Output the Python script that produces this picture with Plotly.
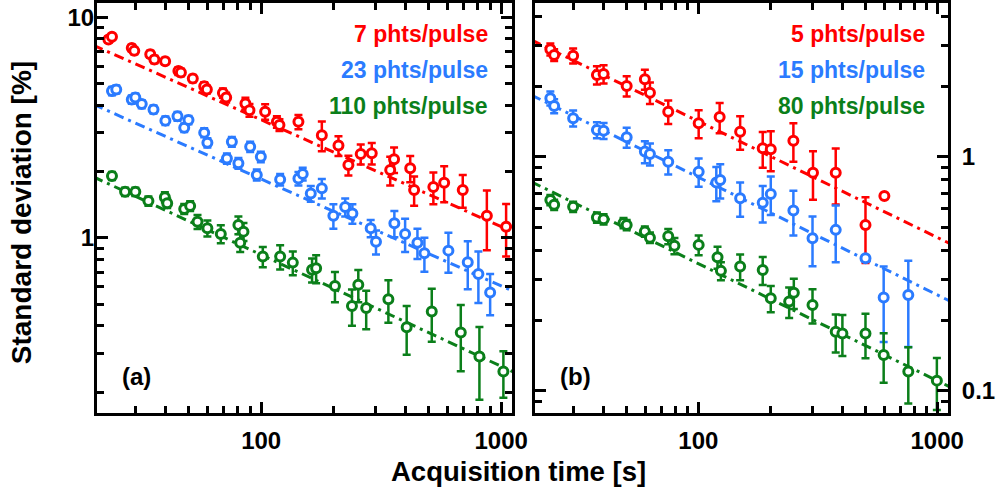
import numpy as np
import plotly.graph_objects as go

# ---------------- panel (a) ----------------
a_red_t = [23.1, 23.9, 28.9, 29.6, 34.5, 35.9, 39.8, 45.2, 46.3, 51.9, 57.9, 59.4, 69.3, 71.5,
           86.0, 89.4, 103.9, 116.3, 119.2, 143, 179, 210, 231, 260, 289, 345, 358, 418, 434,
           522, 579, 692, 872, 1049]
a_red_v = [7.93, 8.15, 7.26, 7.04, 6.80, 6.44, 6.32, 5.70, 5.62, 5.28, 4.87, 4.71, 4.54, 4.33,
           4.07, 3.79, 3.73, 3.36, 3.25, 3.36, 2.92, 2.62, 2.14, 2.40, 2.42, 2.03, 2.27, 2.07, 1.65,
           1.70, 1.78, 1.65, 1.26, 1.125]
a_red_e = [0.25, 0.25, 0.25, 0.25, 0.25, 0.25, 0.22, 0.22, 0.22, 0.2, 0.2, 0.2, 0.22, 0.22,
           0.25, 0.25, 0.3, 0.2, 0.2, 0.25, 0.45, 0.27, 0.22, 0.25, 0.27, 0.3, 0.3, 0.28, 0.25,
           0.28, 0.33, 0.28, 0.38, 0.3]

a_blue_t = [23.9, 24.9, 28.9, 29.9, 31.8, 35.6, 39.9, 44.8, 47.8, 49.8, 57.9, 59.7, 72.0, 75.5,
            80.4, 90.0, 95.9, 99.7, 120, 143, 149, 161, 179, 200, 224, 240, 286, 301, 359, 398,
            448, 479, 603, 726, 804, 900]
a_blue_v = [4.63, 4.71, 4.24, 4.33, 4.04, 3.82, 3.40, 3.56, 3.16, 3.42, 3.00, 2.70, 2.29, 2.73,
            2.18, 2.59, 1.93, 2.33, 1.84, 1.86, 1.95, 1.59, 1.68, 1.26, 1.38, 1.29, 1.106, 0.962,
            1.166, 1.043, 0.952, 0.853, 0.876, 0.776, 0.687, 0.566]
a_blue_e = [0.2, 0.2, 0.18, 0.18, 0.17, 0.16, 0.15, 0.16, 0.14, 0.15, 0.14, 0.13, 0.12, 0.14,
            0.12, 0.14, 0.11, 0.13, 0.11, 0.13, 0.13, 0.13, 0.17, 0.16, 0.13, 0.13, 0.10, 0.12,
            0.16, 0.18, 0.15, 0.15, 0.18, 0.19, 0.18, 0.12]

a_green_t = [23.9, 27.1, 29.9, 33.9, 39.7, 40.6, 47.8, 50.6, 54.3, 59.7, 67.9, 80.4, 84.4, 81.8,
             101.6, 120, 135.5, 163, 169.5, 203, 239, 254, 274, 339, 404, 514, 679, 812, 1022]
a_green_v = [1.908, 1.62, 1.62, 1.47, 1.53, 1.436, 1.353, 1.396, 1.185, 1.106, 1.043, 1.145,
             1.068, 0.952, 0.823, 0.823, 0.773, 0.717, 0.729, 0.606, 0.492, 0.613, 0.481, 0.528,
             0.394, 0.464, 0.373, 0.290, 0.248]
a_green_e = [0.08, 0.07, 0.07, 0.07, 0.08, 0.07, 0.07, 0.07, 0.086, 0.092, 0.098, 0.107, 0.1,
             0.089, 0.086, 0.103, 0.096, 0.089, 0.106, 0.095, 0.092, 0.102, 0.095, 0.115, 0.098,
             0.125, 0.124, 0.105, 0.059]

# ---------------- panel (b) ----------------
b_red_t = [24.0, 24.9, 29.9, 37.6, 40.1, 50.1, 59.7, 62.7, 74.8, 100.3, 122.8, 149.6, 186, 201,
           250, 302, 376, 501, 601]
b_red_v = [2.886, 2.729, 2.710, 2.241, 2.263, 2.011, 2.148, 1.883, 1.562, 1.393, 1.482, 1.283,
           1.089, 1.079, 1.174, 0.857, 0.857, 0.512, 0.681]
b_red_e = [0.17, 0.16, 0.20, 0.20, 0.20, 0.20, 0.21, 0.20, 0.18, 0.19, 0.22, 0.21, 0.19, 0.21,
           0.22, 0.20, 0.23, 0.16, 0.0]

b_blue_t = [24.0, 24.9, 29.9, 37.6, 40.1, 50.1, 59.7, 62.7, 74.8, 100.3, 118.9, 123.5, 149.6,
            186, 201, 250, 300.6, 376, 501, 597, 757]
b_blue_v = [1.782, 1.652, 1.464, 1.304, 1.295, 1.214, 1.054, 1.030, 0.955, 0.865, 0.777, 0.797,
            0.666, 0.638, 0.695, 0.590, 0.449, 0.488, 0.369, 0.251, 0.257]
b_blue_e = [0.123, 0.114, 0.115, 0.103, 0.102, 0.119, 0.114, 0.111, 0.113, 0.119, 0.13, 0.133,
            0.111, 0.113, 0.13, 0.128, 0.108, 0.133, 0.0, 0.089, 0.103]

b_green_t = [24.0, 24.9, 29.9, 37.6, 40.1, 48.6, 50.1, 59.7, 62.7, 74.8, 79.4, 100.3, 120.3,
             124.3, 149.6, 186, 201, 240, 251, 300.6, 376, 401, 501, 597, 757, 997]
b_green_v = [0.655, 0.625, 0.613, 0.551, 0.542, 0.522, 0.512, 0.480, 0.452, 0.458, 0.417, 0.421,
             0.373, 0.326, 0.340, 0.329, 0.249, 0.241, 0.263, 0.233, 0.179, 0.176, 0.176, 0.1425,
             0.121, 0.1107]
b_green_e = [0.033, 0.031, 0.031, 0.028, 0.027, 0.026, 0.026, 0.024, 0.023, 0.034, 0.033, 0.041,
             0.040, 0.029, 0.043, 0.045, 0.032, 0.036, 0.039, 0.039, 0.033, 0.035, 0.038, 0.034,
             0.0326, 0.0277]

# fitted power-law lines, given by their values at the two end times
fit_t = [20, 1200]
a_red_fit = [7.47, 1.03]
a_blue_fit = [4.03, 0.555]
a_green_fit = [1.892, 0.239]
b_red_fit = [3.16, 0.414]
b_blue_fit = [1.839, 0.235]
b_green_fit = [0.783, 0.101]

a_labels = ["7 phts/pulse", "23 phts/pulse", "110 phts/pulse"]
b_labels = ["5 phts/pulse", "15 phts/pulse", "80 phts/pulse"]

RED = "#FF0000"
BLUE = "#2B7BFF"
GREEN = "#0B7F1A"
FONT = "Liberation Sans"

W, H = 999, 496

fig = go.Figure()


def add_panel(xa, ya, series, fits):
    for vals, c in fits:
        fig.add_trace(go.Scatter(
            x=fit_t, y=vals, mode="lines", xaxis=xa, yaxis=ya, showlegend=False,
            line=dict(color=c, width=3, dash="10px,5px,3px,5px"), hoverinfo="skip"))
    for t, v, e, c in series:
        fig.add_trace(go.Scatter(
            x=t, y=v, mode="markers", xaxis=xa, yaxis=ya, showlegend=False,
            error_y=dict(type="data", array=e, color=c, thickness=2.5, width=4),
            marker=dict(symbol="circle", size=9, color="white", line=dict(color=c, width=3))))


add_panel("x", "y",
          [(a_red_t, a_red_v, a_red_e, RED), (a_blue_t, a_blue_v, a_blue_e, BLUE),
           (a_green_t, a_green_v, a_green_e, GREEN)],
          [(a_red_fit, RED), (a_blue_fit, BLUE), (a_green_fit, GREEN)])
add_panel("x2", "y2",
          [(b_red_t, b_red_v, b_red_e, RED), (b_blue_t, b_blue_v, b_blue_e, BLUE),
           (b_green_t, b_green_v, b_green_e, GREEN)],
          [(b_red_fit, RED), (b_blue_fit, BLUE), (b_green_fit, GREEN)])


def minor_vals(lo, hi):
    return [m * 10.0 ** e for e in range(lo, hi) for m in range(2, 10)]


tickfont = dict(family=FONT, size=24, color="black", weight="bold")
common = dict(type="log", showline=True, linecolor="black", linewidth=3, mirror="allticks",
              ticks="inside", ticklen=11, tickwidth=2.5, tickcolor="black", showgrid=False,
              zeroline=False, tickfont=tickfont, automargin=False)

xrange = [np.log10(20.7), np.log10(1110)]
xminor = dict(ticks="inside", ticklen=7, tickwidth=2.5, tickcolor="black", showgrid=False,
              tickmode="array", tickvals=minor_vals(1, 4))

fig.update_layout(
    template="none",
    width=W, height=H, margin=dict(l=0, r=0, t=0, b=0, pad=0), autosize=False,
    paper_bgcolor="white", plot_bgcolor="white",
    xaxis=dict(domain=[97 / W, 512 / W], anchor="y", range=xrange,
               tickmode="array", tickvals=[10, 100, 1000], ticktext=["10", "100", "1000"],
               minor=xminor, ticklabelstandoff=4, **common),
    yaxis=dict(domain=[1 - 413 / H, 1 - 3 / H], anchor="x",
               range=[np.log10(0.161), np.log10(11.6)],
               tickmode="array", tickvals=[1, 10], ticktext=["1", "10"],
               minor=dict(ticks="inside", ticklen=7, tickwidth=2.5, tickcolor="black",
                          showgrid=False, tickmode="array", tickvals=minor_vals(-1, 2)),
               ticklabelstandoff=-5, **common),
    xaxis2=dict(domain=[535 / W, 948 / W], anchor="y2", range=xrange,
                tickmode="array", tickvals=[10, 100, 1000], ticktext=["10", "100", "1000"],
                minor=xminor, ticklabelstandoff=4, **common),
    yaxis2=dict(domain=[1 - 413 / H, 1 - 3 / H], anchor="x2", side="right",
                range=[np.log10(0.0805), np.log10(4.55)],
                tickmode="array", tickvals=[0.1, 1], ticktext=["0.1", "1"],
                minor=dict(ticks="inside", ticklen=7, tickwidth=2.5, tickcolor="black",
                           showgrid=False, tickmode="array", tickvals=minor_vals(-2, 1)),
                ticklabelstandoff=6, **common),
)

ann = []
for labels, xr in ((a_labels, 490), (b_labels, 927)):
    for txt, c, yc in zip(labels, (RED, BLUE, GREEN), (34, 70, 106)):
        ann.append(dict(text=txt, x=xr / W, y=1 - yc / H, xref="paper", yref="paper",
                        xanchor="right", yanchor="middle", showarrow=False,
                        font=dict(family=FONT, size=23, color=c, weight="bold")))
for txt, xc in (("(a)", 136), ("(b)", 575)):
    ann.append(dict(text=txt, x=xc / W, y=1 - 376 / H, xref="paper", yref="paper",
                    xanchor="center", yanchor="middle", showarrow=False,
                    font=dict(family=FONT, size=24, color="black", weight="bold")))
ann.append(dict(text="Acquisition time [s]", x=518 / W, y=1 - 471 / H, xref="paper",
                yref="paper", xanchor="center", yanchor="middle", showarrow=False,
                font=dict(family=FONT, size=27.5, color="black", weight="bold")))
ann.append(dict(text="Standard deviation [%]", x=21.7 / W, y=1 - 212.5 / H, xref="paper",
                yref="paper", xanchor="center", yanchor="middle", showarrow=False,
                textangle=-90,
                font=dict(family=FONT, size=28, color="black", weight="bold")))
fig.update_layout(annotations=ann)

fig.write_html("out.html")
